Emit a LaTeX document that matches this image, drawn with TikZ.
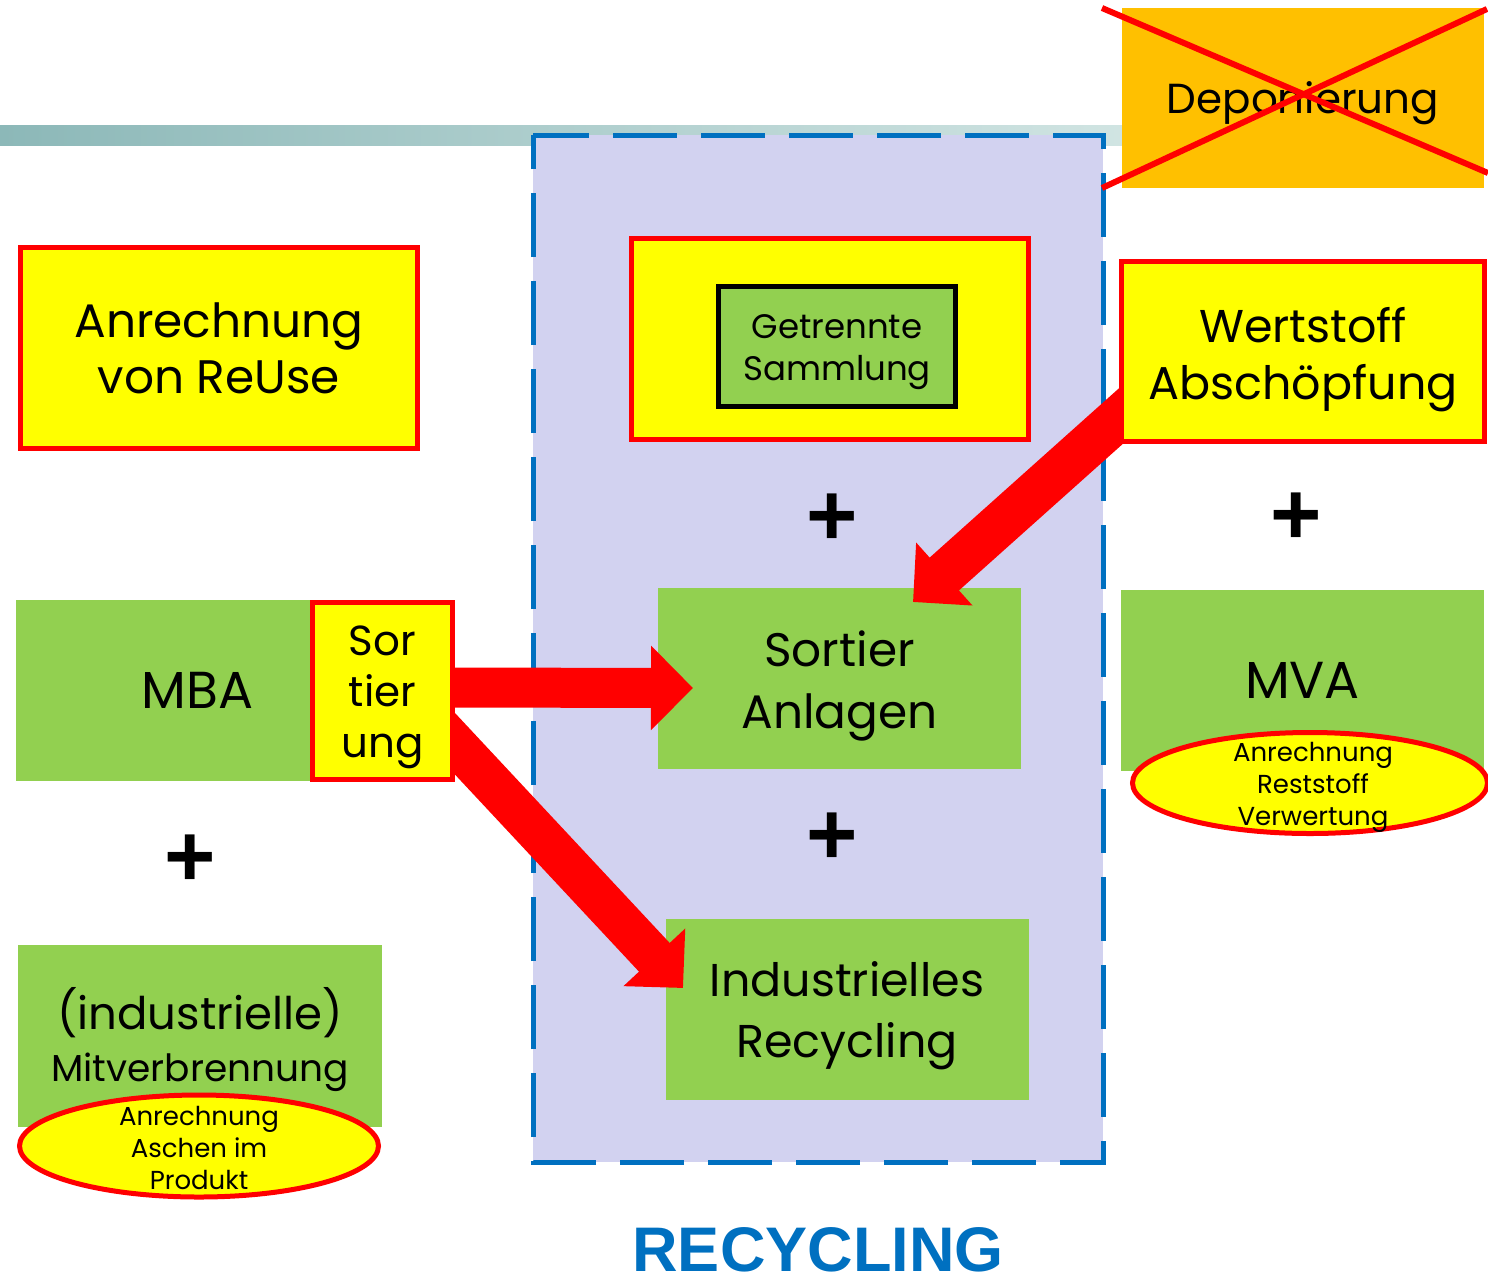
\documentclass[tikz,border=0pt]{standalone}
\usepackage{fontspec}
\setmainfont{Poppins}
\newfontfamily\headfont{Liberation Sans}
\usetikzlibrary{arrows.meta,shapes.geometric}
\definecolor{boxyellow}{HTML}{FFFF00}
\definecolor{boxred}{HTML}{FF0000}
\definecolor{boxgreen}{HTML}{92D050}
\definecolor{boxorange}{HTML}{FFC000}
\definecolor{zonefill}{HTML}{D2D2F0}
\definecolor{zoneblue}{HTML}{0070C0}
\definecolor{barleft}{RGB}{140,184,184}
\definecolor{barright}{RGB}{208,228,226}
\newcommand\setfs[2]{\fontsize{#1}{#2}\selectfont}
\begin{document}
\begin{tikzpicture}[x=1pt,y=-1pt,
  every node/.style={inner sep=0pt, outer sep=0pt, align=center, text=black},
  yellowbox/.style={draw=boxred, line width=5pt, fill=boxyellow},
  greenbox/.style={fill=boxgreen, minimum width=363pt, minimum height=181pt},
  markoval/.style={ellipse, draw=boxred, line width=5pt, fill=boxyellow},
  bigarrow/.style={draw=boxred, line width=#1, -{Triangle[width=82pt,length=42pt]}},
  plussign/.style={font=\headfont\bfseries\setfs{88}{88}},
  crossout/.style={draw=boxred, line width=6pt}]
\useasboundingbox (0,0) rectangle (1488,1280);

% header bar
\shade[left color=barleft, right color=barright] (0,125) rectangle (1122,145);

% recycling zone
\draw[zoneblue, line width=5pt, fill=zonefill, dash pattern=on 64pt off 24pt, dash phase=8pt]
  (533,135) -- (1103,135) -- (1103,1162) -- (533,1162) -- cycle;

% landfill, crossed out
\node[fill=boxorange, minimum width=362pt, minimum height=180pt] (depo) at (1303,98) {};
\node[font=\setfs{42}{50}] (depotxt) at ([yshift=-5pt]depo.center) {Deponierung};
\draw[crossout] ([xshift=-20pt]depo.north west) -- ([xshift=4pt,yshift=15pt]depo.south east);
\draw[crossout] ([xshift=-20pt]depo.south west) -- ([xshift=3pt,yshift=-1pt]depo.north east);

% top row
\node[yellowbox, minimum width=397pt, minimum height=201pt, font=\setfs{47}{56}] (reuse) at (219,348)
  {Anrechnung\\von ReUse};
\node[yellowbox, minimum width=397pt, minimum height=201pt] (getr) at (830,339) {};
\node[draw=black, line width=5pt, fill=boxgreen, minimum width=237pt, minimum height=120pt] (samml)
  at (837,346.5) {};
\node[font=\setfs{34}{42}] (sammltxt) at ([yshift=-6pt]samml.center) {Getrennte\\Sammlung};

% plus signs
\node[plussign] (plusa) at (832,520) {+};
\node[plussign] (plusb) at (1296,519) {+};
\node[plussign] (plusc) at (832,839) {+};
\node[plussign] (plusd) at (190,861) {+};

% plants
\node[greenbox, font=\setfs{52}{56}] (mba) at (197.5,690.5) {MBA};
\node[greenbox] (sanl) at (839.5,678.5) {};
\node[font=\setfs{47}{62}] (sanltxt) at ([yshift=-7pt]sanl.center) {Sortier\\Anlagen};
\node[greenbox, font=\setfs{52}{56}] (mva) at (1302.5,680) {MVA};
\node[greenbox] (indrec) at (847,1009.5) {};
\node[font=\setfs{46}{61}] (indrectxt) at ([yshift=-6pt]indrec.center) {Industrielles\\Recycling};
\node[greenbox, minimum width=364pt, minimum height=182pt] (mitv) at (200,1036) {};
\node[font=\setfs{37.5}{52}] (mitvtxt) at (200,1040) {\setfs{45}{52}(industrielle)\\Mitverbrennung};

% credited residues
\node[markoval, minimum width=355pt, minimum height=101pt] (mvaoval) at (1310,783) {};
\node[font=\setfs{26}{32}] (mvaovaltxt) at (1313,787) {Anrechnung\\Reststoff\\Verwertung};
\node[markoval, minimum width=359pt, minimum height=102pt] (mitvoval) at (199,1146) {};
\node[font=\setfs{26}{32}] (mitvovaltxt) at (199,1148) {Anrechnung\\Aschen im\\Produkt};

% material flows
\draw[bigarrow=40pt] ([xshift=-15pt,yshift=3pt]mba.east -| 455,0) -- ([xshift=35pt,yshift=-9.5pt]sanl.west);
\draw[bigarrow=44pt] (1140,399) -- ([xshift=73.5pt,yshift=-14pt]sanl.north);
\draw[bigarrow=42pt] (430,717) -- ([xshift=17.5pt,yshift=21.5pt]indrec.west);

% boxes on top of arrow tails
\node[yellowbox, minimum width=363pt, minimum height=180pt] (wert) at (1303,351.5) {};
\node[font=\setfs{46}{57}] (werttxt) at ([yshift=-8pt]wert.center) {Wertstoff\\Abschöpfung};
\node[yellowbox, minimum width=140pt, minimum height=177pt] (sortung) at (382.5,691) {};
\node[font=\setfs{42}{51}] (sortungtxt) at ([yshift=-6pt]sortung.center) {Sor\\tier\\ung};

% zone title
\node[font=\headfont\bfseries\setfs{63}{70}, text=zoneblue, text depth=0pt] (title) at (818,1249) {RECYCLING};
\end{tikzpicture}
\end{document}
